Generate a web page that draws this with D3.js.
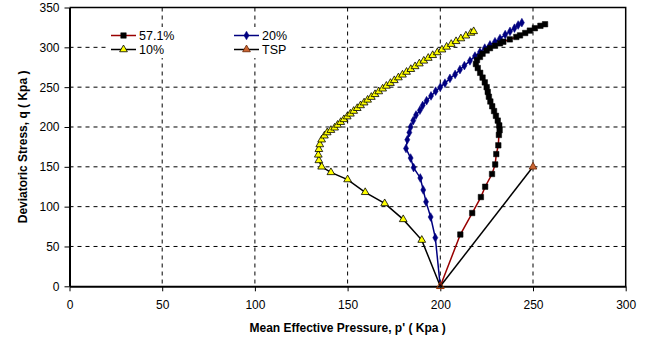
<!DOCTYPE html>
<html>
<head>
<meta charset="utf-8">
<script src="https://cdn.jsdelivr.net/npm/d3@7/dist/d3.min.js"></script>
<style>
  html, body { margin: 0; padding: 0; background: #fff; }
  svg { display: block; font-family: "Liberation Sans", Arial, sans-serif; }
</style>
</head>
<body>
<svg id="chart" width="653" height="345"></svg>
<script>
// Stress paths: mean effective pressure p' (x) vs deviatoric stress q (y), kPa
const xTicks = [0, 50, 100, 150, 200, 250, 300];
const yTicks = [0, 50, 100, 150, 200, 250, 300, 350];

const seriesNames = ["57.1%", "20%", "10%", "TSP"];

const p571 = [200, 210.8, 217.2, 221.9, 224.2, 227.9, 229.6, 230.2, 231.3, 231.6, 232.0, 231.8, 231.0, 230.0, 229.0, 228.0, 227.0, 226.2, 225.6, 225.0, 224.0, 222.8, 221.5, 220.2, 219.2, 219.8, 221.4, 222.8, 225.0, 226.8, 229.5, 232.2, 234.0, 237.5, 241.0, 243.0, 245.8, 248.3, 251.0, 254.0, 256.5];
const q571 = [0, 65, 92, 112, 125, 141, 153, 166, 177, 190, 196, 202, 208, 214, 220, 226, 232, 238, 244, 250, 256, 262, 268, 274, 279, 284, 288, 292, 296, 299, 302, 305, 307, 310, 313, 315, 318, 321, 324, 327, 329];

const p20 = [200, 197.3, 194.8, 192.3, 190.8, 189.2, 185.6, 184.0, 181.5, 182.2, 183.3, 184.0, 185.4, 186.9, 189.0, 190.5, 192.6, 195.0, 197.5, 200.0, 202.5, 205.2, 208.0, 210.6, 213.0, 216.0, 218.7, 221.4, 224.0, 226.8, 229.5, 232.2, 235.0, 237.6, 240.0, 242.0, 244.0];
const q20 = [0, 61, 87, 106, 121, 136, 149, 161, 173, 184, 193, 200, 208, 215, 221, 227, 233, 239, 245, 250, 255, 261, 266, 272, 277, 283, 289, 294, 299, 303, 307, 311, 316, 320, 324, 328, 331];

const p10 = [200, 190, 180, 170, 159.5, 150, 141, 136, 134.5, 134.2, 134.5, 135, 136, 137.5, 139, 141, 143, 144.6, 146.3, 148.0, 149.8, 151.5, 153.3, 155.2, 157.0, 158.9, 160.8, 162.8, 164.8, 166.8, 168.9, 170.9, 173.1, 175.2, 177.4, 179.6, 181.8, 184.1, 186.4, 188.7, 191.1, 193.5, 195.9, 198.4, 200.9, 203.4, 205.9, 208.5, 211.1, 213.8, 216.5, 218.0];
const q10 = [0, 58, 84, 104, 118, 134, 143, 150, 158, 165, 172, 178, 184, 189, 193, 196, 199, 202.5, 206, 209.5, 213, 216.5, 220, 223.5, 227, 230.5, 234, 237.5, 241, 244.5, 248, 251.5, 255, 258.5, 262, 265.5, 269, 272.5, 276, 279.5, 283, 286.5, 290, 293.5, 297, 300.5, 304, 307.5, 311, 314.5, 318, 320];

const pTSP = [200, 250];
const qTSP = [0, 150];

// Plot frame
const plotLeft = 69.5, plotRight = 625.7, plotTop = 7.5, plotBottom = 286.3;

const svg = d3.select("#chart");
const x = d3.scaleLinear().domain([0, 300]).range([plotLeft, plotRight]);
const y = d3.scaleLinear().domain([0, 350]).range([plotBottom, plotTop]);

// Dashed gridlines
const grid = svg.append("g");
grid.selectAll("line.v").data(xTicks.filter(d => d > 0 && d < 300)).join("line")
  .attr("x1", d => x(d)).attr("x2", d => x(d))
  .attr("y1", plotTop).attr("y2", plotBottom)
  .attr("stroke", "#000").attr("stroke-width", 1).attr("stroke-dasharray", "4,4");
grid.selectAll("line.h").data(yTicks.filter(d => d > 0 && d < 350)).join("line")
  .attr("x1", plotLeft).attr("x2", plotRight)
  .attr("y1", d => y(d)).attr("y2", d => y(d))
  .attr("stroke", "#000").attr("stroke-width", 1).attr("stroke-dasharray", "4,4");

// Plot border (top and right)
svg.append("path")
  .attr("d", `M${plotLeft},${plotTop}H${plotRight}V${plotBottom}`)
  .attr("fill", "none").attr("stroke", "#000").attr("stroke-width", 1.5);

// Axes
const xAxis = svg.append("g").attr("transform", `translate(0,${plotBottom})`)
  .call(d3.axisBottom(x).tickValues(xTicks).tickSize(5).tickPadding(9).tickSizeOuter(0));
const yAxis = svg.append("g").attr("transform", `translate(${plotLeft},0)`)
  .call(d3.axisLeft(y).tickValues(yTicks).tickSize(5).tickPadding(5).tickSizeOuter(0));
[xAxis, yAxis].forEach(a => {
  a.select(".domain").attr("stroke", "#000").attr("stroke-width", 2);
  a.selectAll(".tick line").attr("stroke", "#000").attr("stroke-width", 1);
  a.selectAll(".tick text").attr("fill", "#000")
    .attr("font-family", "Liberation Sans, Arial, sans-serif").attr("font-size", 12);
});

// Axis titles
svg.append("text").attr("x", (plotLeft + plotRight) / 2).attr("y", 332)
  .attr("text-anchor", "middle").attr("font-size", 12).attr("font-weight", "bold")
  .text("Mean Effective Pressure, p' ( Kpa )");
svg.append("text")
  .attr("transform", `translate(27,${(plotTop + plotBottom) / 2}) rotate(-90)`)
  .attr("text-anchor", "middle").attr("font-size", 12).attr("font-weight", "bold")
  .text("Deviatoric Stress, q ( Kpa )");

// Marker shapes
const sq = d3.symbol().type(d3.symbolSquare).size(30);
const dia = d3.symbol().type(d3.symbolDiamond).size(22);
const tri = d3.symbol().type(d3.symbolTriangle).size(26);

const line = d3.line().x(d => x(d[0])).y(d => y(d[1]));
const zip = (a, b) => a.map((v, i) => [v, b[i]]);

const series = [
  { name: seriesNames[1], pts: zip(p20, q20), line: "#000080", marker: dia, fill: "#000080", stroke: "#000080", sw: 0.5 },
  { name: seriesNames[2], pts: zip(p10, q10), line: "#000000", marker: tri, fill: "#ffff00", stroke: "#000000", sw: 0.8 },
  { name: seriesNames[0], pts: zip(p571, q571), line: "#990000", marker: sq, fill: "#000000", stroke: "#000000", sw: 0.5 },
  { name: seriesNames[3], pts: zip(pTSP, qTSP), line: "#000000", marker: tri, fill: "#cc6633", stroke: "#662200", sw: 0.8 }
];

series.forEach(s => {
  const g = svg.append("g");
  g.append("path").datum(s.pts).attr("d", line)
    .attr("fill", "none").attr("stroke", s.line).attr("stroke-width", 1.5);
  g.selectAll("path.m").data(s.pts.slice(1)).join("path")
    .attr("d", s.marker)
    .attr("transform", d => `translate(${x(d[0])},${y(d[1])})`)
    .attr("fill", s.fill).attr("stroke", s.stroke).attr("stroke-width", s.sw);
});
// Starting point marker of the total stress path
svg.append("path").attr("d", tri)
  .attr("transform", `translate(${x(pTSP[0])},${y(qTSP[0])})`)
  .attr("fill", "none").attr("stroke", "#993300").attr("stroke-width", 1);

// Legend
const legend = svg.append("g");
legend.append("rect").attr("x", 106).attr("y", 27).attr("width", 194).attr("height", 31).attr("fill", "#fff");
const legendItems = [
  { s: series[2], lx: 111, ly: 35.5 },
  { s: series[0], lx: 234, ly: 35.5 },
  { s: series[1], lx: 111, ly: 49.5 },
  { s: series[3], lx: 234, ly: 49.5 }
];
legendItems.forEach(it => {
  const s = it.s;
  legend.append("line").attr("x1", it.lx).attr("x2", it.lx + 25)
    .attr("y1", it.ly).attr("y2", it.ly).attr("stroke", s.line).attr("stroke-width", 1.5);
  legend.append("path").attr("d", s.marker)
    .attr("transform", `translate(${it.lx + 12.5},${it.ly})`)
    .attr("fill", s.fill).attr("stroke", s.stroke).attr("stroke-width", s.sw);
  legend.append("text").attr("x", it.lx + 28).attr("y", it.ly + 4.3)
    .attr("font-size", 12.5).text(s.name);
});
</script>
</body>
</html>
